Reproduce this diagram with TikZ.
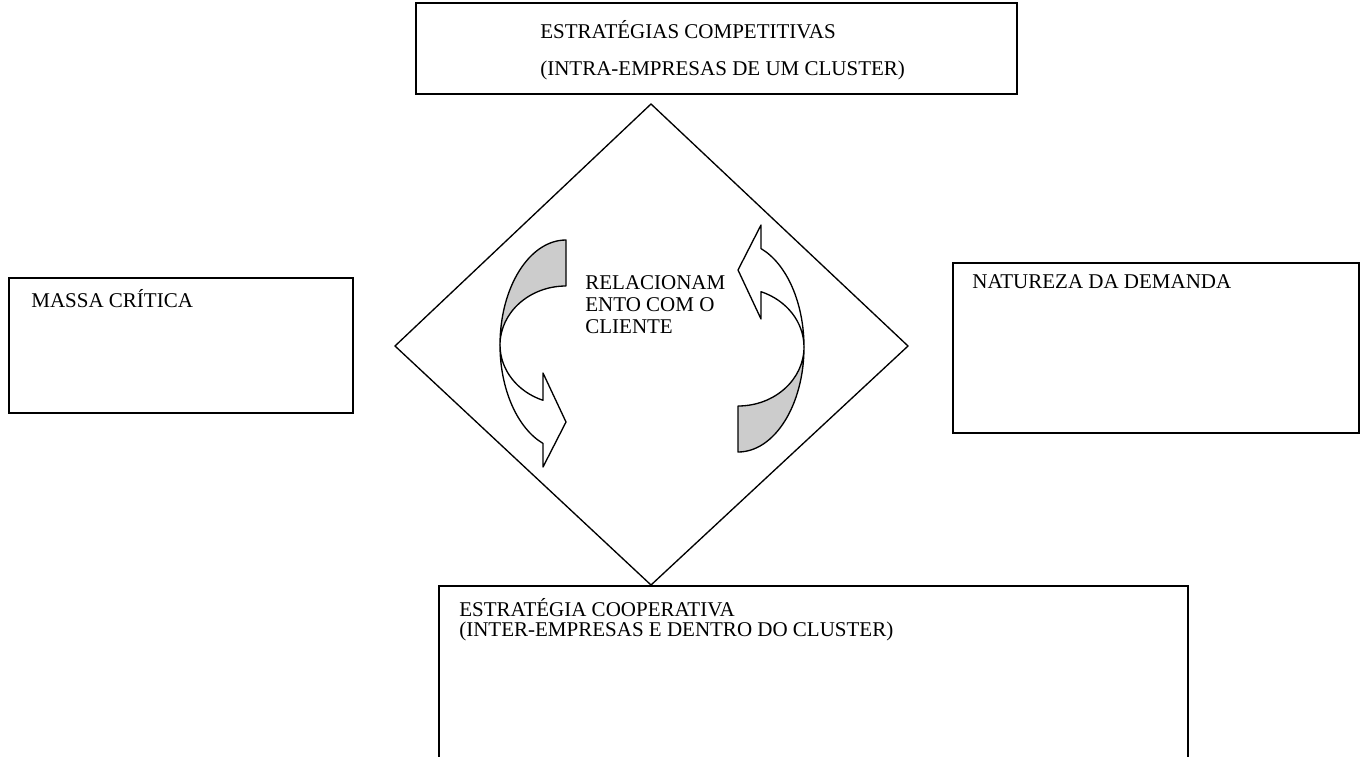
\documentclass[tikz,border=0pt]{standalone}
\usepackage{fontspec}
\setmainfont{Liberation Serif}
\usetikzlibrary{positioning}

\begin{document}
\begin{tikzpicture}[x=0.6pt, y=-0.6pt]
        \tikzset{caixa/.style={draw, rectangle, line width=1.4pt, inner sep=0pt, anchor=north west},
                 rotulo/.style={anchor=base west, inner sep=0pt, font=\fontsize{12.6}{15}\selectfont},
                 costas/.style={draw, fill=black!20, line width=0.8pt, line join=round},
                 frente/.style={draw, fill=white, line width=0.8pt, line join=round},
                 seta/.pic={
                   \path[costas] (0,-105) arc[start angle=270, end angle=180, x radius=66, y radius=105]
                        arc[start angle=180, end angle=270, x radius=66, y radius=59] -- cycle;
                   \path[frente] (-23,55.3) arc[start angle=110.4, end angle=180, x radius=66, y radius=59]
                        arc[start angle=180, end angle=110.4, x radius=66, y radius=105]
                        -- (-23,122) -- (0,77) -- (-23,28) -- cycle;
                 }}
        \clip (0,0) rectangle (1367,756);
        \fill[white] (0,0) rectangle (1367,756);

        % caixas
        \node[caixa, minimum width=360.6pt, minimum height=54.6pt] (compet) at (415,2) {};
        \node[caixa, minimum width=206.4pt, minimum height=81pt] (massa) at (8,277) {};
        \node[caixa, minimum width=243.6pt, minimum height=102pt] (natureza) at (952,262) {};
        \node[caixa, minimum width=449.4pt, minimum height=120pt] (coop) at (438,585) {};

        % losango
        \coordinate (topo) at (651,104);
        \coordinate (dir) at (908,346);
        \coordinate (base) at (651,585);
        \coordinate (esq) at (395,346);
        \draw[line width=0.8pt] (topo) -- (dir) -- (base) -- (esq) -- cycle;

        % setas curvas
        \pic at (566,345) {seta};
        \pic[rotate=180] at (738,347) {seta};

        % textos
        \node[rotulo] (compet1) at (540,38) {ESTRATÉGIAS COMPETITIVAS};
        \node[rotulo] (compet2) at (540,75) {(INTRA-EMPRESAS DE UM CLUSTER)};
        \node[rotulo] (massa1) at (31,307) {MASSA CRÍTICA};
        \node[rotulo] (natureza1) at (972,288) {NATUREZA DA DEMANDA};
        \node[rotulo] (coop1) at (459,616) {ESTRATÉGIA COOPERATIVA};
        \node[rotulo] (coop2) at (459,636) {(INTER-EMPRESAS E DENTRO DO CLUSTER)};
        \node[rotulo] (rel1) at (585,289) {RELACIONAM};
        \node[rotulo] (rel2) at (585,311) {ENTO COM O};
        \node[rotulo] (rel3) at (585,333) {CLIENTE};
\end{tikzpicture}
\end{document}
